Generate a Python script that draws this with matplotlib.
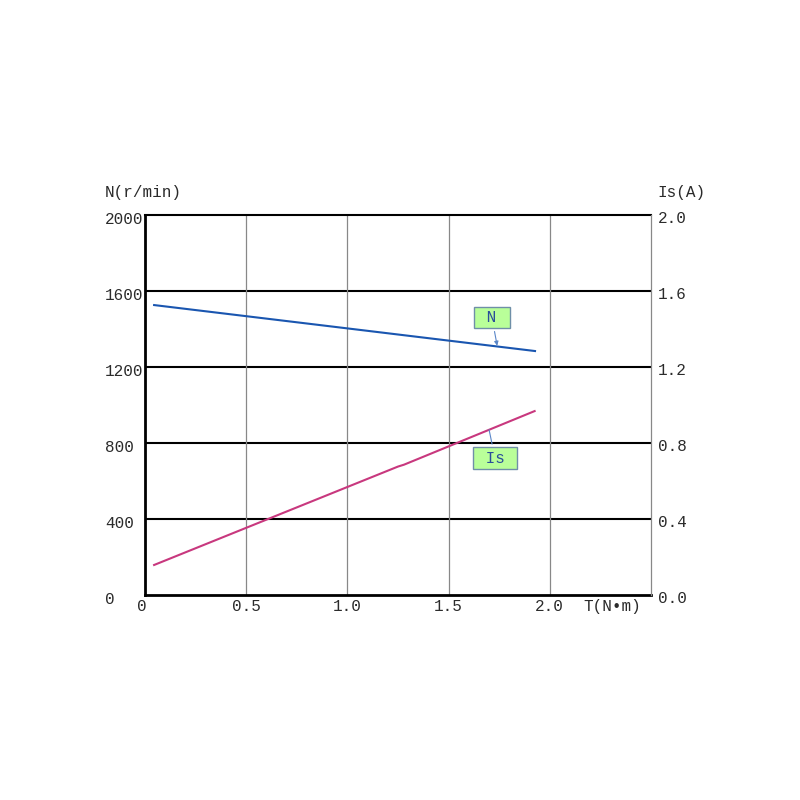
import matplotlib.pyplot as plt
import numpy as np

# data
torque_N = [0.045, 1.927]
speed_N = [1526, 1284]
torque_Is = [0.045, 1.25, 1.28, 1.925]
current_Is = [0.158, 0.676, 0.686, 0.968]

left_ticks = [0, 400, 800, 1200, 1600, 2000]
left_labels = ['0', '400', '800', '1200', '1600', '2000']
right_ticks = [0.0, 0.4, 0.8, 1.2, 1.6, 2.0]
right_labels = ['0.0', '0.4', '0.8', '1.2', '1.6', '2.0']
x_ticks = [0, 0.5, 1.0, 1.5, 2.0]
x_labels = ['0', '0.5', '1.0', '1.5', '2.0']

plt.rcParams['font.family'] = ['Liberation Mono', 'DejaVu Sans Mono']
fs = 11.5
tc = '#2b2b2b'

fig = plt.figure(figsize=(8, 8), dpi=100)
ax = fig.add_axes([0.18125, 0.25625, 0.6325, 0.475])
ax.set_xlim(0, 2.5)
ax.set_ylim(0, 2000)
ax2 = ax.twinx()
ax2.set_ylim(0, 2.0)

# grid
for y in left_ticks[1:-1]:
    ax.axhline(y, color='black', lw=1.5, zorder=1)
for x in x_ticks[1:]:
    ax.axvline(x, color='#888888', lw=0.9, zorder=1)

for s in ['left', 'bottom']:
    ax.spines[s].set_linewidth(2)
ax.spines['top'].set_linewidth(1.5)
ax.spines['right'].set_visible(False)
for s in ['left', 'bottom', 'top']:
    ax2.spines[s].set_visible(False)
ax2.spines['right'].set_color('#888888')
ax2.spines['right'].set_linewidth(0.9)

ax.set_xticks([])
ax.set_yticks([])
ax2.set_yticks([])

ax.plot(torque_N, speed_N, color='#1a56b0', lw=1.5, zorder=3)
ax2.plot(torque_Is, current_Is, color='#c8387e', lw=1.5, zorder=3)

# tick labels
ytr = ax.get_yaxis_transform()
for v, lab in zip(left_ticks, left_labels):
    ax.text(-0.079, v - 25, lab, transform=ytr, ha='left', va='center', fontsize=fs, color=tc)
ytr2 = ax2.get_yaxis_transform()
for v, lab in zip(right_ticks, right_labels):
    ax2.text(1.014, v - 0.02, lab, transform=ytr2, ha='left', va='center', fontsize=fs, color=tc)
xtr = ax.get_xaxis_transform()
for v, lab in zip(x_ticks, x_labels):
    ax.text(v - (0.015 if v == 0 else 0), -0.03, lab, transform=xtr, ha='center', va='center',
            fontsize=fs, color=tc)
ax.text(2.165, -0.03, 'T(N•m)', transform=xtr, ha='left', va='center', fontsize=fs, color=tc)
ax.text(-0.079, 1.06, 'N(r/min)', transform=ax.transAxes, ha='left', va='center', fontsize=fs, color=tc)
ax.text(1.013, 1.06, 'Is(A)', transform=ax.transAxes, ha='left', va='center', fontsize=fs, color=tc)

# callouts
box = dict(boxstyle='square,pad=0.2', fc='#b9ff99', ec='#6f8fa8', lw=1)
ax.annotate(' N ', xy=(1.74, 1312), xytext=(1.714, 1460), fontsize=fs, color='#2a4f9a',
            ha='center', va='center', bbox=box,
            arrowprops=dict(arrowstyle='-|>', color='#5a86c8', lw=0.8, mutation_scale=6, shrinkB=0))
ax2.annotate(' Is ', xy=(1.70, 0.87), xytext=(1.729, 0.721), fontsize=fs, color='#2a4f9a',
             ha='center', va='center', bbox=box,
             arrowprops=dict(arrowstyle='-', color='#5a86c8', lw=0.8, shrinkB=0))

fig.savefig('out.png')
